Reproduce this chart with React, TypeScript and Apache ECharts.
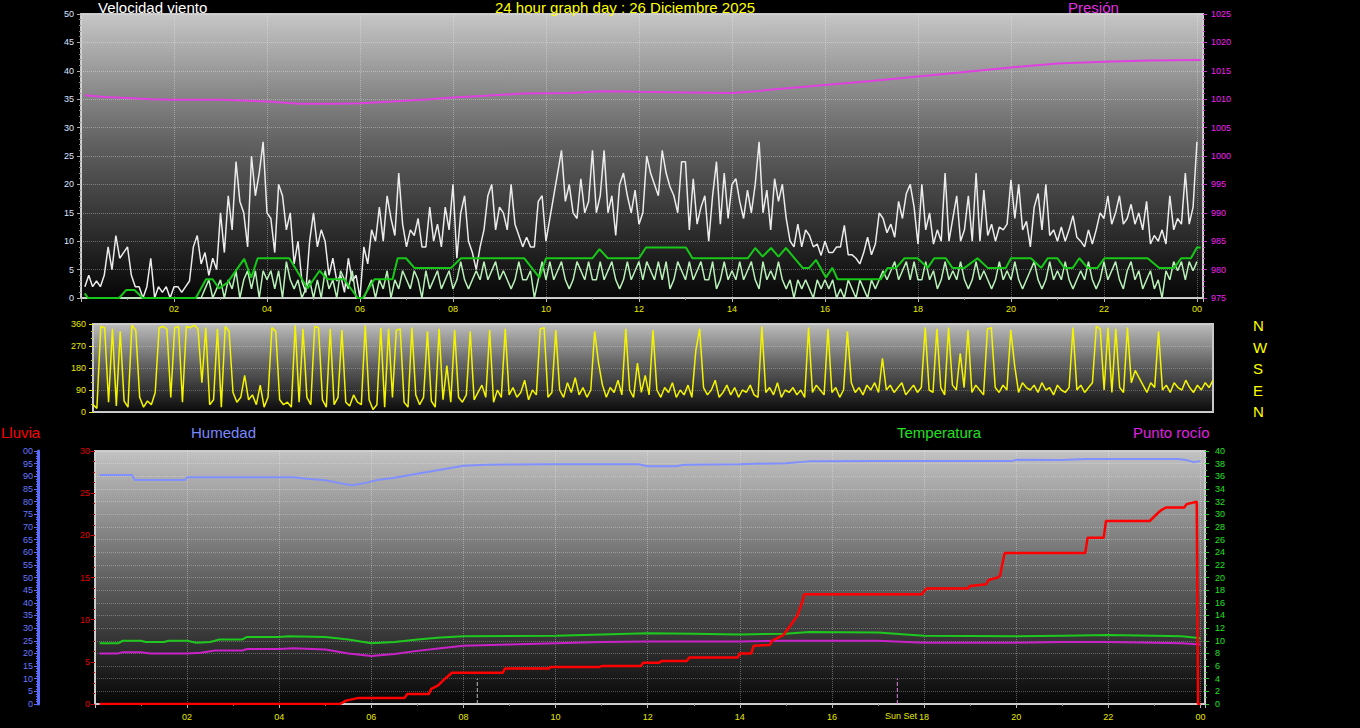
import React, { useEffect, useRef } from "react";
import * as echarts from "echarts";

// ---------- DATA ----------
// Wind samples every 5 minutes, first sample at 00:05 (hours 0..23, 12 per hour)
const WIND_STEP_H = 1 / 12;
const WIND_START_H = 1 / 12;
const gustKmh: number[] = [
  2, 4, 2, 3, 2, 4, 9, 5, 11, 7, 8, 9,
  4, 2, 2, 0, 2, 7, 0, 2, 1, 2, 0, 2,
  2, 1, 2, 3, 9, 11, 6, 8, 4, 7, 5, 15,
  8, 18, 12, 24, 17, 15, 9, 25, 18, 22, 27.5, 15,
  14, 8, 20, 18, 12, 15, 6, 10, 3, 1, 10, 15,
  9, 12, 10, 4, 7, 3, 4, 1, 7, 3, 4, 0,
  9, 6, 12, 10, 16, 10, 18, 14, 11, 22, 13, 9,
  12, 11, 14, 9, 9, 16, 10, 13, 9, 16, 12, 20,
  7, 15, 18, 10, 8, 5, 9, 12, 18, 20, 12, 16,
  15, 12, 20, 13, 11, 9, 10.7, 9, 9, 17, 18, 10,
  14, 18, 22, 26, 17, 20, 15, 14, 21, 15, 17, 26,
  15, 18, 26, 15, 18, 11, 20, 22, 18, 15, 19, 13,
  15, 25, 22, 20, 18, 26, 22, 19.6, 18, 15, 24, 24,
  12, 21, 13, 16, 18, 10, 18, 24, 13, 22, 14, 20,
  21, 17, 14, 19, 15, 20, 27.5, 15, 19, 12, 21, 17,
  20, 14, 10, 9, 13, 9, 12, 11, 9, 9.5, 7.5, 10,
  8, 8, 9, 9, 12.8, 7.6, 7.6, 7, 6, 8, 10.7, 7.6,
  9.5, 15, 14, 11.5, 13, 10.7, 17, 14, 18.4, 20, 16, 9.5,
  20, 12, 15, 9.5, 12, 10, 22, 10, 14, 18, 10, 12,
  18, 10, 22, 10, 19, 11, 13, 10, 12.5, 12, 13, 20.8,
  14, 20, 12, 13.5, 9, 16, 18.4, 12, 20, 11, 12, 10,
  12.5, 10, 12, 14.5, 10.7, 10, 9, 12, 9.5, 12, 15, 14,
  18, 13, 15, 18, 13, 14, 16.5, 13, 15, 12, 17, 9.5,
  11, 10, 12, 9.5, 18, 12, 14, 13, 22, 13, 16, 27.5,
];
const speedKmh: number[] = [
  0, 0, 0, 0, 0, 0, 0, 0, 0, 0, 0, 0,
  0, 0, 0, 0, 0, 0, 0, 0, 0, 0, 0, 0,
  0, 0, 0, 0, 0, 0, 0, 1.6, 3.2, 0, 1.6, 3.2,
  0, 3.2, 1.6, 4.8, 0, 3.2, 4.8, 1.6, 4.8, 0, 4.8, 3.2,
  4.8, 1.6, 4.8, 0, 6.4, 3.2, 1.6, 3.2, 0, 1.6, 3.2, 0,
  3.2, 0, 4.8, 1.6, 3.2, 0, 4.8, 3.2, 1.6, 4.8, 0, 0,
  0, 1.6, 3.2, 0, 3.2, 1.6, 4.8, 0, 3.2, 1.6, 4.8, 3.2,
  1.6, 4.8, 3.2, 0, 4.8, 1.6, 3.2, 4.8, 1.6, 3.2, 4.8, 1.6,
  3.2, 6.4, 3.2, 1.6, 3.2, 4.8, 3.2, 6.4, 3.2, 4.8, 6.4, 3.2,
  4.8, 3.2, 1.6, 3.2, 6.4, 3.2, 3.2, 4.8, 0, 3.2, 6.4, 3.2,
  6.4, 3.2, 4.8, 6.4, 3.2, 1.6, 3.2, 6.4, 4.8, 3.2, 6.4, 3.2,
  3.2, 6.4, 3.2, 4.8, 6.4, 3.2, 1.6, 3.2, 6.4, 3.2, 4.8, 6.4,
  3.2, 6.4, 4.8, 3.2, 6.4, 3.2, 6.4, 1.6, 3.2, 6.4, 4.8, 3.2,
  6.4, 3.2, 4.8, 6.4, 3.2, 3.2, 6.4, 1.6, 3.2, 6.4, 3.2, 4.8,
  3.2, 6.4, 3.2, 4.8, 6.4, 3.2, 1.6, 6.4, 3.2, 4.8, 3.2, 6.4,
  3.2, 1.6, 3.2, 0, 3.2, 1.6, 3.2, 1.6, 0, 3.2, 1.6, 3.2,
  1.6, 3.2, 0, 1.6, 0, 3.2, 1.6, 0, 3.2, 1.6, 0, 3.2,
  1.6, 3.2, 4.8, 3.2, 4.8, 6.4, 3.2, 4.8, 6.4, 3.2, 6.4, 3.2,
  3.2, 6.4, 3.2, 4.8, 1.6, 3.2, 6.4, 3.2, 4.8, 3.2, 6.4, 3.2,
  1.6, 3.2, 6.4, 3.2, 4.8, 3.2, 1.6, 3.2, 6.4, 3.2, 4.8, 3.2,
  6.4, 3.2, 1.6, 3.2, 4.8, 6.4, 3.2, 1.6, 3.2, 6.4, 3.2, 4.8,
  3.2, 6.4, 3.2, 1.6, 3.2, 4.8, 3.2, 6.4, 3.2, 1.6, 3.2, 6.4,
  3.2, 4.8, 6.4, 3.2, 1.6, 4.8, 6.4, 3.2, 4.8, 1.6, 3.2, 4.8,
  1.6, 3.2, 0, 4.8, 3.2, 6.4, 4.8, 6.4, 3.2, 6.4, 4.8, 6.4,
];
// Average wind [hour, km/h]
const avgWind: [number, number][] = [
  [0.08, 0.8], [0.15, 0], [0.82, 0], [0.97, 1.4], [1.15, 1.4], [1.33, 0], [2.47, 0],
  [2.69, 3.3], [2.83, 3.3], [2.97, 1.7], [3.15, 2.7], [3.51, 6.9], [3.66, 3.6],
  [3.8, 7.0], [4.48, 7.0], [4.73, 3.6], [4.87, 1.7], [5.13, 4.8], [5.3, 3.3],
  [5.66, 3.3], [5.95, 0], [6.06, 0], [6.31, 3.3], [6.7, 3.3], [6.81, 7.0],
  [6.99, 7.0], [7.17, 5.3], [7.96, 5.3], [8.17, 7.0], [9.53, 7.0], [9.86, 3.6],
  [10.0, 7.0], [11.0, 7.0], [11.15, 8.6], [11.33, 7.0], [12.0, 7.0], [12.15, 8.9],
  [13.01, 8.9], [13.15, 7.0], [14.34, 7.0], [14.5, 8.8], [14.66, 7.3], [14.84, 8.8],
  [15.0, 7.3], [15.16, 8.8], [15.52, 5.3], [15.66, 5.3], [15.81, 6.7], [16.02, 3.6],
  [16.16, 5.3], [16.27, 3.3], [17.2, 3.3], [17.35, 5.3], [17.53, 5.3], [17.71, 7.0],
  [17.99, 7.0], [18.21, 5.3], [18.35, 7.0], [18.6, 7.0], [18.74, 5.3], [19.0, 5.3],
  [19.28, 7.0], [19.5, 5.3], [19.89, 5.3], [20.0, 7.0], [20.43, 7.0], [20.65, 5.3],
  [20.79, 7.0], [21.0, 7.0], [21.15, 5.3], [21.33, 5.3], [21.47, 7.0], [21.65, 5.3],
  [21.86, 5.3], [22.01, 7.0], [22.94, 7.0], [23.19, 5.3], [23.51, 5.3], [23.66, 7.0],
  [23.87, 7.0], [24.0, 8.9], [24.08, 8.9],
];
// Pressure [hour, hPa]
const pressure: [number, number][] = [
  [0.08, 1010.7], [0.5, 1010.4], [1.0, 1010.2], [1.5, 1010.0], [2.0, 1009.9], [3.0, 1009.9],
  [4.0, 1009.6], [4.7, 1009.2], [5.5, 1009.2], [6.0, 1009.3], [6.7, 1009.6], [7.5, 1010.0],
  [8.0, 1010.3], [8.7, 1010.6], [9.5, 1011.0], [10.5, 1011.1], [11.2, 1011.4], [12.0, 1011.3],
  [13.0, 1011.2], [14.0, 1011.1], [14.5, 1011.4], [15.0, 1011.8], [16.0, 1012.5], [17.0, 1013.2],
  [18.0, 1014.0], [19.0, 1014.8], [20.0, 1015.6], [21.0, 1016.3], [22.0, 1016.6], [23.0, 1016.8],
  [24.08, 1016.9],
];
// Wind direction every 5 minutes from 00:00 (degrees)
const DIR_STEP_H = 1 / 12;
const windDir: number[] = [
  30, 15, 350, 345, 40, 340, 25, 330, 45, 20, 355, 335,
  60, 20, 45, 30, 80, 345, 350, 340, 60, 345, 350, 40,
  350, 345, 355, 340, 120, 345, 30, 50, 340, 20, 350, 330,
  80, 40, 60, 150, 50, 70, 30, 110, 20, 60, 345, 330,
  50, 30, 40, 20, 355, 40, 340, 60, 30, 350, 345, 50,
  20, 340, 30, 60, 335, 40, 25, 70, 40, 30, 355, 50,
  10, 30, 345, 20, 340, 60, 335, 340, 40, 20, 345, 70,
  30, 60, 330, 45, 20, 340, 50, 190, 40, 335, 60, 40,
  70, 330, 50, 80, 110, 60, 335, 40, 90, 60, 340, 70,
  100, 60, 80, 130, 50, 90, 70, 340, 345, 60, 80, 335,
  90, 60, 120, 80, 140, 70, 100, 60, 90, 330, 200, 110,
  60, 100, 80, 130, 70, 340, 90, 60, 200, 80, 150, 70,
  335, 90, 60, 100, 80, 120, 60, 90, 70, 110, 60, 250,
  340, 100, 70, 90, 130, 60, 80, 110, 70, 100, 60, 90,
  80, 110, 70, 60, 350, 80, 100, 70, 120, 60, 90, 80,
  100, 70, 90, 60, 345, 80, 110, 90, 70, 340, 80, 100,
  60, 90, 330, 120, 80, 100, 70, 110, 90, 120, 80, 220,
  90, 110, 80, 100, 120, 70, 90, 110, 80, 100, 345, 90,
  80, 340, 100, 70, 345, 110, 90, 240, 100, 335, 80, 110,
  90, 70, 340, 345, 100, 80, 110, 90, 335, 190, 80, 120,
  100, 90, 110, 80, 120, 90, 100, 70, 110, 90, 80, 100,
  345, 90, 110, 80, 100, 120, 350, 340, 90, 345, 80, 340,
  100, 80, 345, 120, 170, 140, 110, 80, 120, 100, 330, 90,
  110, 80, 120, 100, 90, 130, 100, 80, 110, 90, 120, 100,
  130,
];
// Bottom panel
const humidity: [number, number][] = [
  [0.1, 90.5], [0.8, 90.5], [0.87, 88.5], [1.95, 88.5], [2.0, 89.6], [4.3, 89.6], [4.6, 89.0],
  [5.0, 88.4], [5.4, 87.0], [5.6, 86.5], [5.9, 87.5], [6.1, 88.4], [6.5, 89.4], [7.0, 91.0],
  [7.5, 92.6], [8.0, 94.2], [8.5, 94.6], [10.0, 94.8], [11.8, 94.8], [12.0, 94.0], [12.6, 94.0],
  [12.8, 94.6], [14.0, 94.8], [15.0, 95.2], [15.5, 95.9], [17.0, 96.0], [19.9, 96.0], [20.0, 96.5],
  [21.0, 96.4], [21.5, 96.8], [23.5, 96.8], [23.7, 96.4], [23.85, 95.6], [24.0, 96.0],
];
const temperature: [number, number][] = [
  [0.1, 9.6], [0.5, 9.6], [0.6, 10.0], [1.0, 10.0], [1.1, 9.8], [1.5, 9.8], [1.6, 10.0], [2.0, 10.0],
  [2.2, 9.7], [2.5, 9.8], [2.7, 10.2], [3.2, 10.2], [3.3, 10.6], [4.0, 10.6], [4.2, 10.7], [5.0, 10.6],
  [5.5, 10.2], [6.0, 9.6], [6.5, 9.8], [7.0, 10.2], [7.5, 10.5], [8.0, 10.7], [10.0, 10.8], [11.0, 11.0],
  [12.0, 11.2], [13.0, 11.1], [14.0, 11.0], [15.0, 11.1], [15.5, 11.4], [17.0, 11.3], [17.6, 11.0],
  [18.0, 10.8], [20.0, 10.7], [21.0, 10.8], [22.0, 10.9], [23.0, 10.8], [23.6, 10.7], [24.0, 10.4],
];
const dewPoint: [number, number][] = [
  [0.1, 8.0], [0.5, 8.0], [0.6, 8.2], [1.0, 8.2], [1.2, 8.0], [2.0, 8.0], [2.3, 8.1], [2.6, 8.45],
  [3.2, 8.45], [3.3, 8.7], [4.0, 8.7], [4.3, 8.8], [5.0, 8.6], [5.5, 8.0], [6.0, 7.6], [6.5, 7.9],
  [7.0, 8.4], [7.5, 8.8], [8.0, 9.2], [9.0, 9.4], [10.0, 9.6], [11.0, 9.8], [12.0, 9.9], [14.0, 9.9],
  [15.0, 10.0], [17.0, 10.0], [18.0, 9.7], [20.0, 9.7], [21.0, 9.8], [22.0, 9.8], [23.0, 9.7],
  [23.6, 9.6], [24.0, 9.4],
];
const rain: [number, number][] = [
  [0.1, 0], [5.32, 0], [5.45, 0.4], [5.7, 0.7], [6.72, 0.7], [6.78, 1.2], [7.25, 1.2], [7.3, 1.8],
  [7.45, 2.2], [7.6, 3.0], [7.75, 3.7], [8.85, 3.7], [8.9, 4.2], [9.85, 4.2], [9.9, 4.4], [10.95, 4.4],
  [11.0, 4.5], [11.85, 4.5], [11.9, 4.9], [12.25, 4.9], [12.3, 5.1], [12.85, 5.1], [12.9, 5.5],
  [13.95, 5.5], [14.0, 6.0], [14.25, 6.0], [14.3, 6.9], [14.65, 7.0], [14.7, 7.5], [14.95, 8.2],
  [15.1, 9.3], [15.25, 10.5], [15.35, 12.0], [15.4, 13.0], [17.95, 13.0], [18.05, 13.7], [18.95, 13.7],
  [19.0, 14.0], [19.35, 14.2], [19.4, 14.7], [19.6, 15.0], [19.65, 15.2], [19.75, 17.9], [21.5, 17.9],
  [21.55, 19.7], [21.9, 19.7], [21.95, 21.7], [22.9, 21.7], [23.05, 22.5], [23.15, 23.0], [23.25, 23.3],
  [23.65, 23.3], [23.7, 23.7], [23.85, 23.9], [23.92, 24.0], [23.95, 0], [24.0, 0],
];
const SUNRISE_H = 8.3;
const SUNSET_H = 17.42;
const compassLabels = ["N", "W", "S", "E", "N"];

// ---------- helpers ----------
const FONT = "'Liberation Sans', Arial, sans-serif";
const toPairs = (arr: number[], start: number, step: number) =>
  arr.map((v, i) => [start + i * step, v]);
const hourLabel = (v: number) => {
  if (v <= 0.001 || v > 24.001 || Math.abs(v - Math.round(v)) > 1e-6) return "";
  return String(Math.round(v) % 24).padStart(2, "0");
};
const plain = (v: number) => String(v);
const dotted = (c = "rgba(255,255,255,0.32)") => ({ show: true, lineStyle: { color: c, type: "dotted" as const, width: 1 } });
const grad = (stops: [number, string][]) =>
  new echarts.graphic.LinearGradient(0, 0, 0, 1, stops.map(([offset, color]) => ({ offset, color })));

export default function App() {
  const ref = useRef<HTMLDivElement>(null);
  useEffect(() => {
    document.body.style.margin = "0";
    document.body.style.background = "#000";
    if (!ref.current) return;
    const chart = echarts.init(ref.current, undefined, { renderer: "svg" });
    const lineBase = { type: "line" as const, showSymbol: false, symbol: "none", silent: true };
    const xCommon = (gridIndex: number, max: number, showLabels: boolean, margin: number) => ({
      type: "value" as const,
      gridIndex,
      min: 0,
      max,
      interval: 2,
      axisLine: { show: false },
      axisTick: { show: showLabels, length: 4, lineStyle: { color: "#bbb" } },
      minorTick: { show: showLabels, splitNumber: 2, length: 2, lineStyle: { color: "#888" } },
      axisLabel: { show: showLabels, color: "#e8e800", fontSize: 9, fontFamily: FONT, margin, formatter: hourLabel, showMinLabel: false },
      splitLine: showLabels ? dotted() : { show: false },
    });
    const option: any = {
      animation: false,
      backgroundColor: "#000",
      grid: [
        { left: 81, top: 14, width: 1122, height: 284, show: true, borderColor: "#c8c8c8", borderWidth: 2,
          backgroundColor: grad([[0, "#c6c6c6"], [0.45, "#626262"], [1, "#060606"]]) },
        { left: 93, top: 324, width: 1120, height: 88, show: true, borderColor: "#c8c8c8", borderWidth: 2,
          backgroundColor: grad([[0, "#bcbcbc"], [0.5, "#5a5a5a"], [1, "#0a0a0a"]]) },
        { left: 95, top: 451, width: 1110, height: 253, show: true, borderColor: "#c8c8c8", borderWidth: 2,
          backgroundColor: grad([[0, "#c2c2c2"], [0.5, "#626262"], [1, "#060606"]]) },
      ],
      xAxis: [xCommon(0, 24.13, true, 6), xCommon(1, 24, false, 6), xCommon(2, 24.1, true, 8)],
      yAxis: [
        { type: "value", gridIndex: 0, min: 0, max: 50, interval: 5, position: "left",
          axisLine: { show: false }, axisTick: { show: true, length: 4, lineStyle: { color: "#aaa" } },
          minorTick: { show: true, splitNumber: 5, length: 2, lineStyle: { color: "#888" } },
          axisLabel: { color: "#dde4ff", fontSize: 9, fontFamily: FONT, margin: 7, formatter: plain }, splitLine: dotted() },
        { type: "value", gridIndex: 0, min: 975, max: 1025, interval: 5, position: "right",
          axisLine: { show: false }, axisTick: { show: true, length: 4, lineStyle: { color: "#d030d0" } },
          minorTick: { show: true, splitNumber: 5, length: 2, lineStyle: { color: "#d030d0" } },
          axisLabel: { color: "#f020f0", fontSize: 9, fontFamily: FONT, margin: 8, formatter: plain }, splitLine: { show: false } },
        { type: "value", gridIndex: 1, min: 0, max: 360, interval: 90, position: "left",
          axisLine: { show: false }, axisTick: { show: true, length: 4, lineStyle: { color: "#e8e800" } },
          minorTick: { show: true, splitNumber: 3, length: 2, lineStyle: { color: "#c8c800" } },
          axisLabel: { color: "#e8e800", fontSize: 9, fontFamily: FONT, margin: 7, formatter: plain }, splitLine: dotted("rgba(255,255,255,0.25)") },
        { type: "value", gridIndex: 2, min: 0, max: 30, interval: 5, position: "left",
          axisLine: { show: false }, axisTick: { show: true, length: 4, lineStyle: { color: "#e00000" } },
          minorTick: { show: true, splitNumber: 4, length: 2, lineStyle: { color: "#c00000" } },
          axisLabel: { color: "#e00000", fontSize: 9, fontFamily: FONT, margin: 5, formatter: plain }, splitLine: { show: false } },
        { type: "value", gridIndex: 2, min: 0, max: 100, interval: 5, position: "left", offset: 57,
          axisLine: { show: true, lineStyle: { color: "#5a6cff", width: 3 } },
          axisTick: { show: true, length: 4, lineStyle: { color: "#5a6cff" } },
          minorTick: { show: true, splitNumber: 5, length: 2, lineStyle: { color: "#5a6cff" } },
          axisLabel: { color: "#6878ff", fontSize: 9, fontFamily: FONT, margin: 5, formatter: (v: number) => (v === 100 ? "00" : String(v)) },
          splitLine: { show: false } },
        { type: "value", gridIndex: 2, min: 0, max: 40, interval: 2, position: "right",
          axisLine: { show: false }, axisTick: { show: true, length: 4, lineStyle: { color: "#20d020" } },
          minorTick: { show: true, splitNumber: 2, length: 2, lineStyle: { color: "#20d020" } },
          axisLabel: { color: "#20e020", fontSize: 9, fontFamily: FONT, margin: 10, formatter: plain }, splitLine: dotted("rgba(255,255,255,0.28)") },
      ],
      series: [
        { ...lineBase, name: "Presión", xAxisIndex: 0, yAxisIndex: 1, data: pressure, lineStyle: { color: "#e040e0", width: 2 } },
        { ...lineBase, name: "Racha", xAxisIndex: 0, yAxisIndex: 0, data: toPairs(gustKmh, WIND_START_H, WIND_STEP_H), lineStyle: { color: "#ececec", width: 1.5 } },
        { ...lineBase, name: "Velocidad", xAxisIndex: 0, yAxisIndex: 0, data: toPairs(speedKmh, WIND_START_H, WIND_STEP_H), lineStyle: { color: "#b8f0b8", width: 1.5 } },
        { ...lineBase, name: "Media", xAxisIndex: 0, yAxisIndex: 0, data: avgWind, lineStyle: { color: "#18c818", width: 2 } },
        { ...lineBase, name: "Dirección", xAxisIndex: 1, yAxisIndex: 2, data: toPairs(windDir, 0, DIR_STEP_H), lineStyle: { color: "#f4f400", width: 1.5 } },
        { ...lineBase, name: "Humedad", xAxisIndex: 2, yAxisIndex: 4, data: humidity, lineStyle: { color: "#8090ff", width: 2 } },
        { ...lineBase, name: "Temperatura", xAxisIndex: 2, yAxisIndex: 5, data: temperature, lineStyle: { color: "#1ec81e", width: 2 } },
        { ...lineBase, name: "Punto rocío", xAxisIndex: 2, yAxisIndex: 5, data: dewPoint, lineStyle: { color: "#c822c8", width: 2 } },
        { ...lineBase, name: "Lluvia", xAxisIndex: 2, yAxisIndex: 3, data: rain, lineStyle: { color: "#ff0000", width: 2.5 } },
        { ...lineBase, name: "Sun Rise", xAxisIndex: 2, yAxisIndex: 3, data: [[SUNRISE_H, 0], [SUNRISE_H, 3]], lineStyle: { color: "#bbbbbb", width: 1, type: "dashed" } },
        { ...lineBase, name: "Sun Set", xAxisIndex: 2, yAxisIndex: 3, data: [[SUNSET_H, 0], [SUNSET_H, 3]], lineStyle: { color: "#e080e0", width: 1, type: "dashed" } },
      ],
      graphic: [
        { type: "text", left: 98, top: 0, style: { text: "Velocidad viento", fill: "#ffffff", font: `15px ${FONT}` } },
        { type: "text", left: 495, top: 0, style: { text: "24 hour graph day : 26 Diciembre 2025", fill: "#ffff00", font: `15px ${FONT}` } },
        { type: "text", left: 1068, top: 0, style: { text: "Presión", fill: "#e030e0", font: `15px ${FONT}` } },
        { type: "text", left: 1, top: 425, style: { text: "Lluvia", fill: "#ff0000", font: `15px ${FONT}` } },
        { type: "text", left: 191, top: 425, style: { text: "Humedad", fill: "#7a88ff", font: `15px ${FONT}` } },
        { type: "text", left: 897, top: 425, style: { text: "Temperatura", fill: "#20e020", font: `15px ${FONT}` } },
        { type: "text", left: 1133, top: 425, style: { text: "Punto rocío", fill: "#e020e0", font: `15px ${FONT}` } },
        { type: "text", left: 885, top: 711, style: { text: "Sun Set", fill: "#e8e800", font: `9px ${FONT}` } },
        ...compassLabels.map((t, i) => ({
          type: "text", left: 1253, top: 318 + i * 21.5, style: { text: t, fill: "#ffff00", font: `15px ${FONT}` },
        })),
      ],
    };
    chart.setOption(option);
    return () => chart.dispose();
  }, []);
  return <div ref={ref} style={{ width: 1360, height: 728, background: "#000" }} />;
}
